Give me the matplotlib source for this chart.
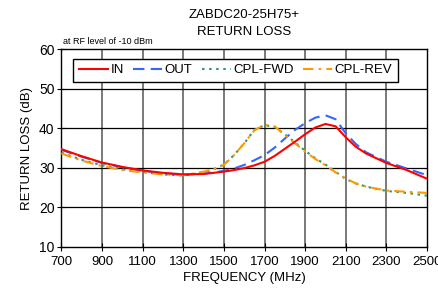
import matplotlib
matplotlib.use("Agg")
import matplotlib.pyplot as plt

plt.rcParams['font.family'] = ['Liberation Sans', 'DejaVu Sans']

freq = [700, 800, 900, 1000, 1100, 1200, 1300, 1400, 1450, 1500, 1550, 1600, 1650,
        1700, 1750, 1800, 1850, 1900, 1950, 2000, 2050, 2100, 2150, 2200, 2300, 2400, 2500]

rl_in = [34.7, 32.9, 31.3, 30.2, 29.3, 28.7, 28.3, 28.4, 28.7, 29.0, 29.4, 29.9, 30.6,
         31.5, 33.0, 34.8, 36.6, 38.5, 40.2, 41.1, 40.5, 37.7, 35.3, 33.6, 31.2, 29.4, 27.2]
rl_out = [34.5, 32.8, 31.2, 30.1, 29.2, 28.6, 28.2, 28.5, 28.8, 29.2, 29.8, 30.7, 31.9,
          33.2, 35.1, 37.4, 39.6, 41.3, 42.7, 43.3, 42.3, 38.7, 36.0, 33.9, 31.5, 29.8, 28.1]
rl_cpl_fwd = [33.8, 32.0, 30.6, 29.6, 28.9, 28.3, 28.0, 28.8, 29.6, 30.8, 33.2, 36.2, 39.6,
              40.8, 40.3, 38.5, 36.4, 34.3, 32.4, 30.8, 29.0, 27.1, 26.0, 25.2, 24.1, 23.6, 22.9]
rl_cpl_rev = [33.6, 31.8, 30.4, 29.4, 28.8, 28.3, 28.1, 29.0, 29.7, 30.7, 33.2, 36.2, 39.5,
              40.9, 40.5, 38.3, 36.2, 34.1, 32.2, 30.6, 28.8, 27.3, 26.0, 25.2, 24.2, 23.9, 23.6]

series_names = ['IN', 'OUT', 'CPL-FWD', 'CPL-REV']
x_ticks = [700, 900, 1100, 1300, 1500, 1700, 1900, 2100, 2300, 2500]
y_ticks = [10, 20, 30, 40, 50, 60]

fig = plt.figure(figsize=(4.39, 2.92), dpi=100)
ax = fig.add_axes([0.140, 0.1558, 0.8327, 0.6747])

ax.plot(freq, rl_in, color='#FF0000', lw=1.5, ls='-', label=series_names[0], zorder=5)
ax.plot(freq, rl_out, color='#3366FF', lw=1.5, ls=(0, (5.5, 3)), label=series_names[1], zorder=4)
ax.plot(freq, rl_cpl_fwd, color='#339966', lw=1.5, ls=(0, (1.2, 2.2)), label=series_names[2], zorder=3)
ax.plot(freq, rl_cpl_rev, color='#FF9900', lw=1.5, ls=(0, (5, 2.5, 1.2, 2.5)), label=series_names[3], zorder=4)

ax.set_xlim(700, 2500)
ax.set_ylim(10, 60)
ax.set_xticks(x_ticks)
ax.set_yticks(y_ticks)
ax.set_xticklabels([str(v) for v in x_ticks], fontsize=9.5)
ax.set_yticklabels([str(v) for v in y_ticks], fontsize=10)
ax.tick_params(axis='both', direction='inout', length=6, width=0.8, color='black', pad=2)
ax.tick_params(axis='x', pad=4)

for v in x_ticks[1:-1]:
    ax.axvline(v, color='#6e6e6e', lw=1.3, zorder=1)
for v in y_ticks[1:-1]:
    ax.axhline(v, color='black', lw=0.9, zorder=1)

for s in ax.spines.values():
    s.set_color('black')
    s.set_linewidth(1.0)

ax.set_xlabel('FREQUENCY (MHz)', fontsize=9.5, labelpad=3)
ax.set_ylabel('RETURN LOSS (dB)', fontsize=9.5, labelpad=4)

leg = ax.legend(loc='upper center', ncol=4, fontsize=9.5, frameon=True, fancybox=False,
                edgecolor='black', framealpha=1, bbox_to_anchor=(0.476, 0.952),
                handlelength=2.2, handletextpad=0.2, columnspacing=0.7,
                borderpad=0.4, borderaxespad=0)
leg.get_frame().set_linewidth(1.0)

fig.text(244 / 439, 1 - 15 / 292, 'ZABDC20-25H75+', ha='center', va='center', fontsize=9.5)
fig.text(244 / 439, 1 - 32 / 292, 'RETURN LOSS', ha='center', va='center', fontsize=9.5)
fig.text(63 / 439, 1 - 42 / 292, 'at RF level of -10 dBm', ha='left', va='center', fontsize=6.5)

fig.savefig('out.png', dpi=100)
